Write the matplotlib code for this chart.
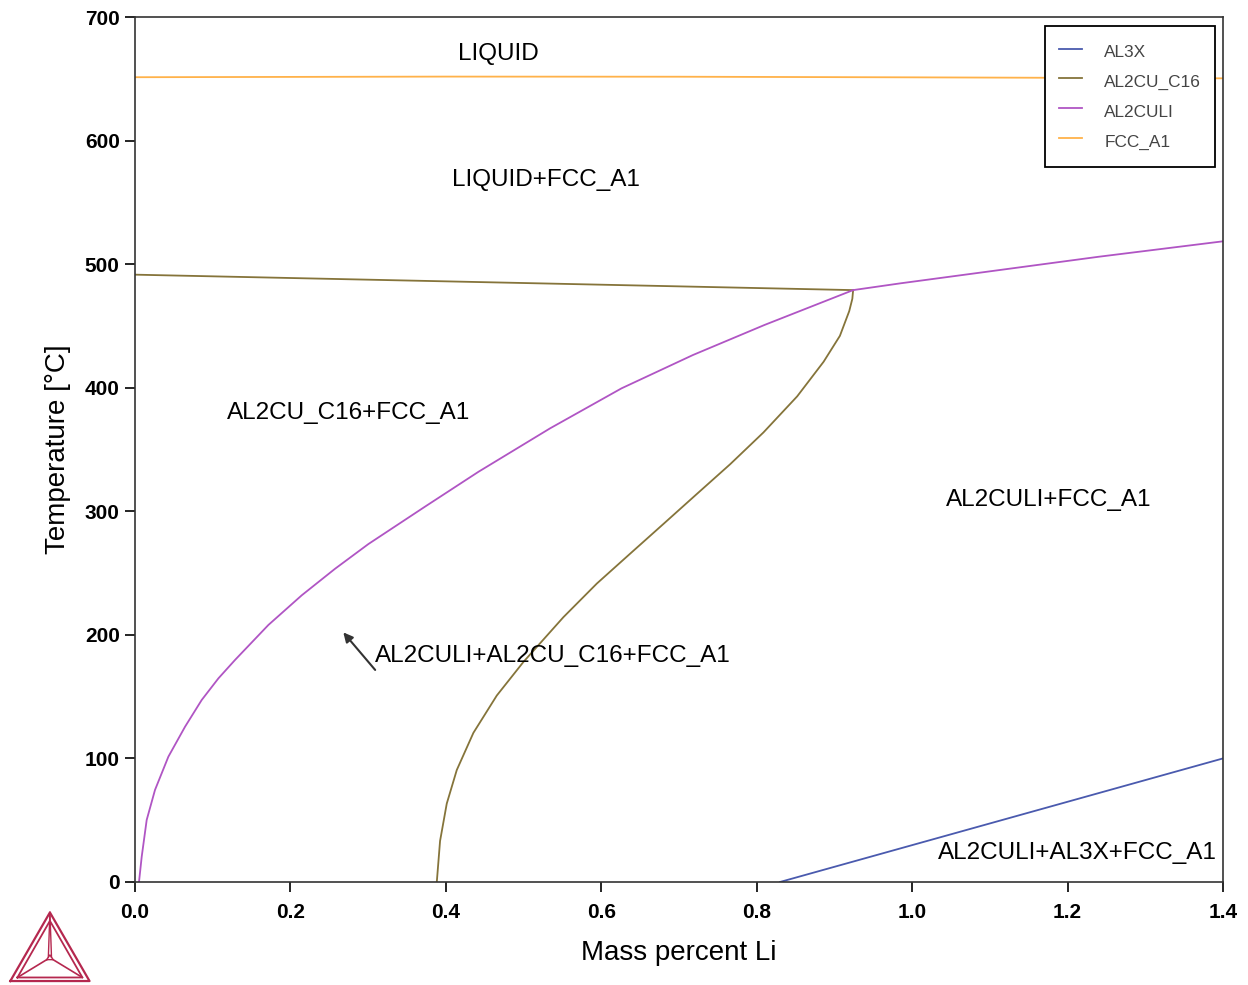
import numpy as np
import matplotlib
matplotlib.use("Agg")
import matplotlib.pyplot as plt

# Al-Cu-Li isopleth, temperature vs mass percent Li

# FCC_A1 liquidus
fcc_x = [0.0, 0.4, 0.7, 1.0, 1.4]
fcc_t = [651.3, 651.8, 651.7, 651.2, 650.4]

# AL2CU_C16 boundaries: upper line and solvus below the triple point
c16_top_x = [0.0, 0.924]
c16_top_t = [491.5, 479.0]
c16_x = [0.3883, 0.3925, 0.4011, 0.414, 0.4354, 0.4655, 0.4998, 0.5512,
         0.5942, 0.6371, 0.680, 0.7229, 0.7658, 0.8086, 0.852, 0.886,
         0.907, 0.919, 0.923, 0.924]
c16_t = [0.0, 33.2, 63.4, 90.6, 120.7, 150.9, 178.1, 214.3,
         241.5, 265.7, 289.8, 314.0, 338.1, 363.8, 393.0, 421.0,
         442.0, 462.0, 472.0, 479.0]

# AL2CULI boundaries: solvus and upper line
culi_x = [0.0051, 0.0086, 0.015, 0.0257, 0.0429, 0.0644, 0.0858, 0.1073,
          0.1287, 0.1716, 0.2145, 0.2574, 0.3003, 0.373, 0.442, 0.534,
          0.626, 0.718, 0.810, 0.924]
culi_t = [0.0, 20.5, 50.2, 74.5, 101.4, 125.7, 147.3, 164.8,
          179.7, 208.0, 232.0, 253.5, 273.5, 303.7, 332.0, 367.1,
          399.5, 426.5, 450.8, 479.0]
culi_top_x = [0.924, 0.985, 1.24, 1.4]
culi_top_t = [479.0, 484.5, 506.0, 518.5]

# AL3X boundary
al3x_x = [0.83, 1.4]
al3x_t = [0.0, 100.0]

# region labels (text, x, T, horizontal alignment)
labels = [("LIQUID", 0.467, 670.0, "center"),
          ("LIQUID+FCC_A1", 0.529, 568.5, "center"),
          ("AL2CU_C16+FCC_A1", 0.275, 379.5, "center"),
          ("AL2CULI+FCC_A1", 1.176, 309.5, "center"),
          ("AL2CULI+AL2CU_C16+FCC_A1", 0.309, 183.0, "left"),
          ("AL2CULI+AL3X+FCC_A1", 1.3925, 23.5, "right")]

c_al3x = "#4a5aae"
c_c16 = "#85743a"
c_culi = "#b055c4"
c_fcc = "#ffb24a"

plt.rcParams["font.family"] = ["Liberation Sans", "DejaVu Sans"]

fig = plt.figure(figsize=(12.48, 9.85), dpi=100)
ax = fig.add_axes([0.1082, 0.1046, 0.98 - 0.1082, 0.9827 - 0.1046])

ax.plot(al3x_x, al3x_t, color=c_al3x, lw=1.3, label="AL3X")
ax.plot(c16_x, c16_t, color=c_c16, lw=1.3, label="AL2CU_C16")
ax.plot(c16_top_x, c16_top_t, color=c_c16, lw=1.3)
ax.plot(culi_x, culi_t, color=c_culi, lw=1.3, label="AL2CULI")
ax.plot(culi_top_x, culi_top_t, color=c_culi, lw=1.3)
ax.plot(fcc_x, fcc_t, color=c_fcc, lw=1.3, label="FCC_A1")

for txt, x, t, ha in labels:
    ax.text(x, t, txt, fontsize=17.5, ha=ha, va="center", color="black")

ax.annotate("", xy=(0.268, 202.0), xytext=(0.309, 171.6),
            arrowprops=dict(arrowstyle="-|>", color="#333333", lw=1.5,
                            mutation_scale=14, shrinkA=0, shrinkB=0))

ax.set_xlim(0, 1.4)
ax.set_ylim(0, 700)
ax.set_xticks(np.arange(0, 1.41, 0.2))
ax.set_yticks(np.arange(0, 701, 100))
ax.set_xticklabels([f"{v:.1f}" for v in np.arange(0, 1.41, 0.2)])
ax.tick_params(direction="out", length=7, width=1.2, labelsize=15)
ax.tick_params(axis="x", pad=8)
ax.tick_params(axis="y", pad=4)
for lab in ax.get_xticklabels() + ax.get_yticklabels():
    lab.set_fontweight("bold")
for s in ax.spines.values():
    s.set_linewidth(1.2)
    s.set_color("#333333")

ax.set_xlabel("Mass percent Li", fontsize=20, labelpad=13)
ax.set_ylabel("Temperature [°C]", fontsize=20, labelpad=10)

leg = ax.legend(loc="upper right", bbox_to_anchor=(0.9926, 0.9896),
                borderaxespad=0, fontsize=12.4, handlelength=1.35,
                handletextpad=1.3, handleheight=1.74, labelspacing=0.35,
                borderpad=0.81, fancybox=False, framealpha=1)
leg.get_frame().set_edgecolor("black")
leg.get_frame().set_linewidth(1.3)
for t in leg.get_texts():
    t.set_color("#444444")

# logo in the lower left corner
lax = fig.add_axes([0.004, 0.0, 0.072, 0.078])
lax.set_xlim(-0.05, 1.05)
lax.set_ylim(-0.05, 0.92)
lax.set_aspect("equal")
lax.axis("off")
red = "#b5284f"
outer = np.array([[0, 0], [1, 0], [0.5, 0.866], [0, 0]])
inner = np.array([[0.09, 0.045], [0.91, 0.045], [0.5, 0.76], [0.09, 0.045]])
core = np.array([[0.46, 0.27], [0.54, 0.27], [0.5, 0.33], [0.46, 0.27]])
lax.plot(outer[:, 0], outer[:, 1], color=red, lw=1.6)
lax.plot(inner[:, 0], inner[:, 1], color=red, lw=1.3)
lax.plot(core[:, 0], core[:, 1], color=red, lw=1.0)
lax.plot([0.46, 0.09], [0.27, 0.045], color=red, lw=1.2)
lax.plot([0.54, 0.91], [0.27, 0.045], color=red, lw=1.2)
lax.plot([0.48, 0.5], [0.30, 0.866], color=red, lw=1.0)
lax.plot([0.52, 0.5], [0.30, 0.866], color=red, lw=1.0)

fig.savefig("out.png", dpi=100)
